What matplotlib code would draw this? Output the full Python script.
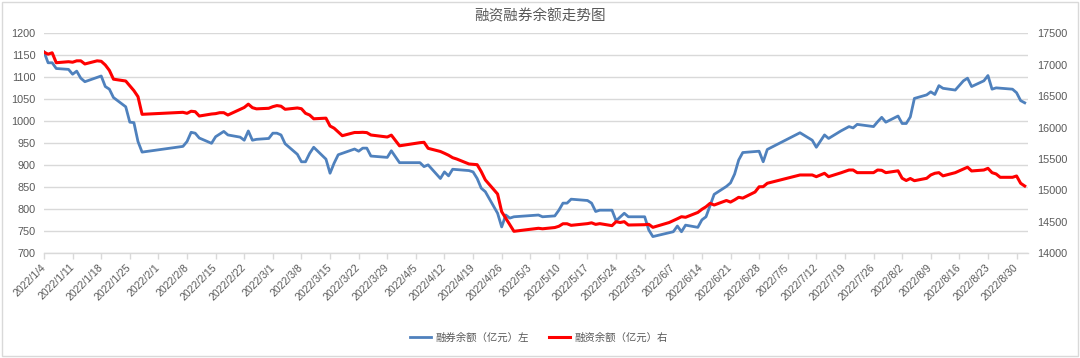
import matplotlib
matplotlib.use("Agg")
import matplotlib.pyplot as plt
import matplotlib.dates as mdates
from matplotlib.lines import Line2D
from matplotlib.patches import Rectangle
import datetime as dt

plt.rcParams['font.family'] = ['Liberation Sans', 'Noto Sans CJK SC', 'DejaVu Sans']

title = "融资融券余额走势图"
blue_label = "融券余额（亿元）左"
red_label = "融资余额（亿元）右"

# 融券余额 (left axis)
blue_dates = ["01-04","01-05","01-06","01-07","01-10","01-11","01-12","01-13","01-14","01-18",
              "01-19","01-20","01-21","01-24","01-25","01-26","01-27","01-28","02-07","02-08",
              "02-09","02-10","02-11","02-14","02-15","02-16","02-17","02-18","02-21","02-22",
              "02-23","02-24","02-25","02-28","03-01","03-02","03-03","03-04","03-07","03-08",
              "03-09","03-10","03-11","03-14","03-15","03-16","03-17","03-21","03-22","03-23",
              "03-24","03-25","03-29","03-30","04-01","04-06","04-07","04-08","04-11","04-12",
              "04-13","04-14","04-18","04-19","04-20","04-21","04-22","04-25","04-26","04-27",
              "04-28","04-29","05-05","05-06","05-09","05-10","05-11","05-12","05-13","05-17",
              "05-18","05-19","05-20","05-23","05-24","05-26","05-27","05-31","06-01","06-02",
              "06-07","06-08","06-09","06-10","06-13","06-14","06-15","06-17","06-20","06-21",
              "06-22","06-23","06-24","06-28","06-29","06-30","07-08","07-11","07-12","07-14",
              "07-15","07-18","07-20","07-21","07-22","07-26","07-27","07-28","07-29","08-01",
              "08-02","08-03","08-04","08-05","08-08","08-09","08-10","08-11","08-12","08-15",
              "08-17","08-18","08-19","08-22","08-23","08-24","08-25","08-29","08-30","08-31",
              "09-01"]
blue_vals = [1158,1133,1133,1120,1118,1107,1114,1098,1090,1103,
             1079,1073,1054,1033,998,997,954,930,943,954,
             975,973,962,950,965,971,977,969,964,957,
             978,957,959,961,973,973,969,949,925,908,
             908,927,941,914,882,905,924,937,932,939,
             939,921,918,933,906,906,897,901,870,885,
             876,891,888,885,870,848,840,791,760,787,
             780,783,787,783,785,798,814,814,823,820,
             814,795,798,798,774,791,783,783,753,738,
             749,762,749,764,759,776,783,834,852,860,
             880,912,929,932,908,936,974,957,941,969,
             961,978,988,985,993,988,999,1009,998,1012,
             995,995,1010,1052,1060,1067,1061,1081,1075,1071,
             1092,1098,1079,1092,1104,1073,1076,1073,1065,1047,
             1042]

# 融资余额 (right axis)
red_dates = ["01-04","01-05","01-06","01-07","01-10","01-11","01-12","01-13","01-14","01-17",
             "01-18","01-19","01-20","01-21","01-24","01-25","01-26","01-27","01-28","02-07",
             "02-08","02-09","02-10","02-11","02-14","02-15","02-16","02-17","02-18","02-21",
             "02-22","02-23","02-24","02-25","02-28","03-01","03-02","03-03","03-04","03-07",
             "03-08","03-09","03-10","03-11","03-14","03-15","03-16","03-17","03-18","03-21",
             "03-22","03-23","03-24","03-25","03-29","03-30","04-01","04-06","04-07","04-08",
             "04-11","04-12","04-13","04-14","04-15","04-18","04-19","04-20","04-21","04-22",
             "04-25","04-26","04-29","05-05","05-06","05-09","05-10","05-11","05-12","05-13",
             "05-17","05-18","05-19","05-20","05-23","05-24","05-25","05-26","05-27","05-31",
             "06-01","06-02","06-06","06-07","06-08","06-09","06-10","06-13","06-14","06-15",
             "06-16","06-17","06-20","06-21","06-22","06-23","06-24","06-27","06-28","06-29",
             "06-30","07-08","07-11","07-12","07-14","07-15","07-18","07-20","07-21","07-22",
             "07-26","07-27","07-28","07-29","08-01","08-02","08-03","08-04","08-05","08-08",
             "08-09","08-10","08-11","08-12","08-15","08-18","08-19","08-22","08-23","08-24",
             "08-25","08-26","08-29","08-30","08-31","09-01"]
red_vals = [17200,17168,17190,17032,17048,17040,17062,17062,17012,17062,
            17055,16996,16910,16770,16741,16664,16588,16492,16211,16243,
            16227,16260,16253,16184,16216,16222,16237,16237,16200,16291,
            16320,16373,16317,16298,16307,16333,16350,16340,16291,16312,
            16300,16227,16200,16140,16150,16025,15990,15930,15871,15922,
            15922,15925,15920,15882,15850,15880,15710,15760,15766,15670,
            15620,15591,15560,15521,15500,15421,15415,15410,15300,15168,
            14943,14662,14350,14398,14390,14410,14430,14470,14470,14445,
            14472,14485,14460,14472,14440,14503,14490,14503,14450,14455,
            14461,14413,14490,14520,14550,14582,14573,14650,14700,14740,
            14795,14768,14840,14815,14850,14891,14878,14975,15058,15060,
            15114,15246,15246,15219,15273,15219,15280,15325,15325,15283,
            15283,15325,15320,15283,15312,15194,15158,15190,15155,15193,
            15246,15273,15283,15232,15283,15370,15310,15325,15352,15283,
            15262,15209,15209,15230,15114,15070]

left_ticks = list(range(700, 1201, 50))
right_ticks = list(range(14000, 17501, 500))


def to_date(s):
    m, d = s.split("-")
    return dt.date(2022, int(m), int(d))


bd = [to_date(s) for s in blue_dates]
rd = [to_date(s) for s in red_dates]

GRAY = '#595959'
GRID = '#d9d9d9'
BLUE = '#4f81bd'
RED = '#ff0000'

fig = plt.figure(figsize=(10.8, 3.58), dpi=100)
ax = fig.add_axes([44/1080, (358-253.3)/358, 984/1080, 220/358])
ax2 = ax.twinx()

ax.plot(bd, blue_vals, color=BLUE, lw=2.0, solid_joinstyle='round')
ax2.plot(rd, red_vals, color=RED, lw=2.2, solid_joinstyle='round')

start = dt.date(2022, 1, 4)
ticks = [start + dt.timedelta(days=7*i) for i in range(35)]
ax.set_xlim(mdates.date2num(start), mdates.date2num(dt.date(2022, 9, 1)) + 0.8)
ax.set_xticks(ticks)
ax.set_xticklabels([f"{t.year}/{t.month}/{t.day}" for t in ticks],
                   rotation=45, ha='right', va='center', rotation_mode='anchor')

ax.set_ylim(700, 1200)
ax.set_yticks(left_ticks)
ax2.set_ylim(14000, 17500)
ax2.set_yticks(right_ticks)

ax.grid(axis='y', color=GRID, lw=1)
ax.set_axisbelow(True)
for a in (ax, ax2):
    for s in ('top', 'left', 'right'):
        a.spines[s].set_visible(False)
ax2.spines['bottom'].set_visible(False)
ax.spines['bottom'].set_color(GRID)
ax.spines['bottom'].set_linewidth(1)

ax.tick_params(axis='x', length=4, width=1, color=GRID, labelsize=7.6,
               labelcolor=GRAY, pad=5)
ax.tick_params(axis='y', length=0, labelsize=7.8, labelcolor=GRAY, pad=6)
ax2.tick_params(axis='y', length=0, labelsize=7.8, labelcolor=GRAY, pad=6.5)

fig.text(0.5, 1 - 16/358, title, ha='center', va='center', fontsize=10.5, color=GRAY)

handles = [Line2D([], [], color=BLUE, lw=2.0), Line2D([], [], color=RED, lw=2.2)]
fig.legend(handles, [blue_label, red_label], loc='center',
           bbox_to_anchor=(539/1080, 1 - 338/358), ncol=2, frameon=False,
           fontsize=7.5, labelcolor=GRAY, handlelength=2.0, handletextpad=0.4,
           columnspacing=2.0)

fig.patches.append(Rectangle((0.002, 0.006), 0.996, 0.988, transform=fig.transFigure,
                             fill=False, edgecolor=GRID, lw=1))

fig.savefig("out.png", dpi=100)
